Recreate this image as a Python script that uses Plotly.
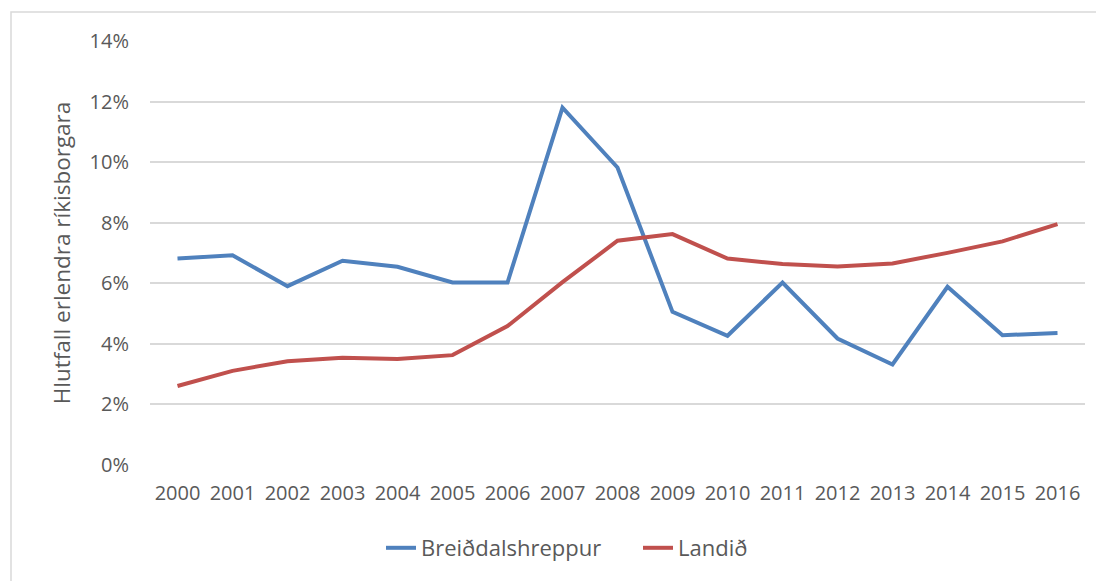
import plotly.graph_objects as go

years = [str(y) for y in range(2000, 2017)]
breiddals = [0.0682, 0.0693, 0.0591, 0.0675, 0.0655, 0.0603, 0.0603, 0.1181, 0.0983,
             0.0506, 0.0427, 0.0603, 0.0418, 0.0332, 0.0589, 0.0429, 0.0436]
landid = [0.0261, 0.0311, 0.0343, 0.0354, 0.0350, 0.0363, 0.0459, 0.0604, 0.0741,
          0.0763, 0.0682, 0.0664, 0.0656, 0.0666, 0.0701, 0.0739, 0.0796]
y_ticks = [0, 0.02, 0.04, 0.06, 0.08, 0.10, 0.12, 0.14]
y_tick_text = ["0%", "2%", "4%", "6%", "8%", "10%", "12%", "14%"]

# page has an 8px body margin, so figure coordinates are offset by 8px
OFF = 8
W, H = 1104 - OFF, 581 - OFF
L, R, T, B = 150 - OFF, 1085 - OFF, 41 - OFF, 465 - OFF

fig = go.Figure()
fig.add_trace(go.Scatter(x=years, y=breiddals, mode="lines", name="Breiðdalshreppur",
                         line=dict(color="#4f81bd", width=4)))
fig.add_trace(go.Scatter(x=years, y=landid, mode="lines", name="Landið",
                         line=dict(color="#c0504d", width=4)))

font_family = "'Open Sans', sans-serif"
fig.update_layout(
    width=W, height=H,
    margin=dict(l=L, r=W - R, t=T, b=H - B),
    paper_bgcolor="white", plot_bgcolor="white",
    font=dict(family=font_family, color="#595959", size=20),
    showlegend=True,
    legend=dict(orientation="h", x=(381 - 150) / (R - L), xanchor="left",
                y=(B - (548 - OFF)) / (B - T), yanchor="middle",
                font=dict(size=22, color="#595959"),
                entrywidth=212, entrywidthmode="pixels",
                tracegroupgap=0),
    xaxis=dict(type="category", range=[-0.5, 16.5], showgrid=False, showline=False,
               zeroline=False, ticks="", ticklabelstandoff=14,
               tickfont=dict(size=20, color="#595959")),
    yaxis=dict(range=[0, 0.1401], tickvals=y_ticks, ticktext=y_tick_text,
               showgrid=True, gridcolor="#d9d9d9", gridwidth=1.5, zeroline=False,
               showline=False, ticks="", ticklabelstandoff=20,
               tickfont=dict(size=20, color="#595959"),
               title=dict(text="Hlutfall erlendra ríkisborgara", standoff=12,
                          font=dict(size=22.5, color="#595959"))),
    shapes=[dict(type="rect", xref="paper", yref="paper",
                 x0=(11 - 150) / (R - L), x1=1.1,
                 y0=-0.4, y1=1 + (41 - 12) / (B - T),
                 line=dict(color="#d9d9d9", width=1.5), fillcolor="rgba(0,0,0,0)",
                 layer="below")],
)

fig.write_html("out.html")
